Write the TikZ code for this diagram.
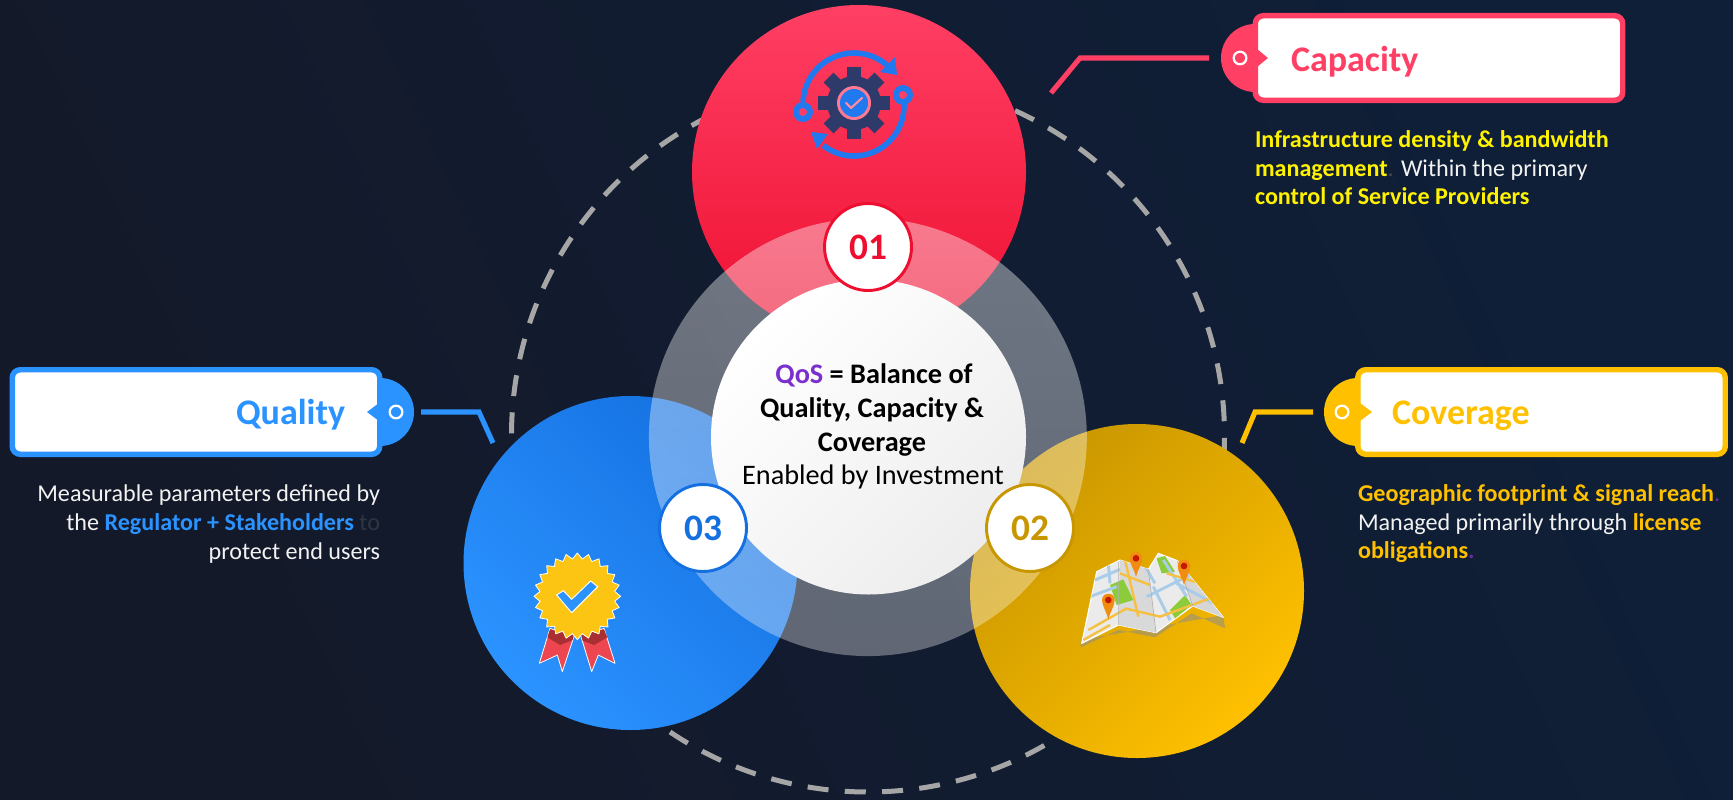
\documentclass[tikz,border=0pt]{standalone}
\usepackage{fontspec}
\setmainfont{Carlito}
\usetikzlibrary{shadings,calc,fadings}
\definecolor{bgA}{HTML}{141929}
\definecolor{bgB}{HTML}{0E1729}
\definecolor{bgC}{HTML}{0F1F38}
\definecolor{capRed}{HTML}{FF3F64}
\definecolor{redDeep}{HTML}{EE0F30}
\definecolor{quBlue}{HTML}{2B93FF}
\definecolor{blueDeep}{HTML}{1470E0}
\definecolor{covGold}{HTML}{FFC000}
\definecolor{goldDeep}{HTML}{C89600}
\definecolor{dashGrey}{HTML}{A6A6A6}
\definecolor{txtWhite}{HTML}{F2F2F2}
\definecolor{qosPurple}{HTML}{7B2FCC}
\definecolor{dotPurple}{HTML}{6A2C9E}
\definecolor{gearNavy}{HTML}{2E3A6A}
\definecolor{gearBlue}{HTML}{2079EE}
\definecolor{pinOrange}{HTML}{F08C10}
\definecolor{roadBlue}{HTML}{A9CDE8}
\definecolor{roadGold}{HTML}{F6C040}
\definecolor{mapGreen}{HTML}{8CCB3A}
\definecolor{sealGold}{HTML}{FDC513}
\definecolor{ribbonRed}{HTML}{EE4650}
\definecolor{ribbonDark}{HTML}{A92F33}
\tikzfading[name=halofade,top color=transparent!60,bottom color=transparent!67]
\tikzset{
  disc/.style={circle,inner sep=0pt,outer sep=0pt,draw=none,minimum size=#1*0.75pt},
  numbadge/.style={circle,inner sep=0pt,outer sep=0pt,fill=white,draw=#1,text=#1,line width=2.2pt,minimum size=65.25pt,font=\bfseries\fontsize{28}{28}\selectfont},
  tagbox/.style={rectangle,rounded corners=6pt,fill=white,draw=#1,line width=4.1pt,inner sep=0pt,outer sep=0pt},
  tagtext/.style={inner sep=0pt,outer sep=0pt,text=#1,font=\bfseries\fontsize{27}{27}\selectfont},
  desc/.style={inner sep=0pt,outer sep=0pt,text=txtWhite,font=\fontsize{18.1}{18.1}\selectfont},
  centre/.style={inner sep=0pt,outer sep=0pt,text=black,font=\fontsize{21.2}{21.2}\selectfont},
  link/.style={line width=3.8pt,draw=#1,line cap=butt,line join=miter},
  eye/.style={circle,inner sep=0pt,draw=white,fill=none,line width=1.7pt,minimum size=9.5pt},
}
\begin{document}
\begin{tikzpicture}[x=0.75pt,y=-0.75pt]
\useasboundingbox (0,0) rectangle (1733,799);
\shade[left color=bgA,middle color=bgB,right color=bgC,shading angle=115] (0,0) rectangle (1733,799);

% dashed ring
\node[disc=713,draw=dashGrey,line width=3.75pt,dash pattern=on 15.75pt off 12.25pt,dash phase=17.3pt,fill=none] (orbit) at (868,435.5) {};

% big coloured discs
\node[disc=334,top color=capRed,bottom color=redDeep,shading angle=0] (red) at (859,172) {};
\node[disc=334,left color=quBlue,right color=blueDeep,shading angle=135] (blue) at (630.5,563) {};
\node[disc=334,left color=covGold,right color=goldDeep,shading angle=225] (gold) at (1137,591) {};

% translucent ring and centre disc
\node[disc=438,fill=white,path fading=halofade] (halo) at (868,437) {};
\node[disc=315,left color=white,right color=white!93!black,shading angle=45] (core) at (868.5,437) {};

% centre text
\node[centre,anchor=base] (c1) at (874,383) {\textbf{\textcolor{qosPurple}{QoS} = Balance of}};
\node[centre,anchor=base] (c2) at (872,417) {\textbf{Quality, Capacity \&}};
\node[centre,anchor=base] (c3) at (872,451) {\textbf{Coverage}};
\node[centre,anchor=base] (c4) at (873,484) {Enabled by Investment};

% number badges
\node[numbadge=redDeep] (n1) at (868,247) {\raisebox{-1pt}{01}};
\node[numbadge=goldDeep] (n2) at (1030,528) {\raisebox{-1pt}{02}};
\node[numbadge=blueDeep] (n3) at (703,528) {\raisebox{-1pt}{03}};

% Capacity tag
\node[disc=68,fill=capRed] (lobeA) at (1255,58) {};
\node[tagbox=capRed,minimum width=275.6pt,minimum height=63.4pt] (boxA) at (1439,58) {};
\fill[capRed] (1257,49) -- (1268,58) -- (1257,67) -- cycle;
\node[eye] (eyeA) at (1240,58) {};
\node[tagtext=capRed,anchor=base west] (tA) at (1291,71) {Capacity};
\coordinate (a1) at (1209,58);
\coordinate (a2) at (1080,58);
\coordinate (a3) at (1051,93);
\draw[link=capRed] (a1) -- (a2) -- (a3);
\node[desc,anchor=base west] (dA1) at (1255,147) {\textcolor{yellow}{\textbf{Infrastructure density \& bandwidth}}};
\node[desc,anchor=base west] (dA2) at (1255,176) {\textcolor{yellow}{\textbf{management}}\textcolor{bgA!80!white}{.} Within the primary};
\node[desc,anchor=base west] (dA3) at (1255,204) {\textcolor{yellow}{\textbf{control of Service Providers}}};

% Quality tag
\node[disc=68,fill=quBlue] (lobeB) at (380,412) {};
\node[tagbox=quBlue,minimum width=275.6pt,minimum height=63.4pt] (boxB) at (196,412) {};
\fill[quBlue] (379,403) -- (367,412) -- (379,421) -- cycle;
\node[eye] (eyeB) at (396,412) {};
\node[tagtext=quBlue,anchor=base east] (tB) at (345,424) {Quality};
\coordinate (b1) at (421,412);
\coordinate (b2) at (479,412);
\coordinate (b3) at (493,443);
\draw[link=quBlue] (b1) -- (b2) -- (b3);
\node[desc,anchor=base east] (dB1) at (380,501) {Measurable parameters defined by};
\node[desc,anchor=base east] (dB2) at (380,530) {the \textcolor{quBlue}{\textbf{Regulator + Stakeholders}} \textcolor{white!12!bgA}{to}};
\node[desc,anchor=base east] (dB3) at (380,559) {protect end users};

% Coverage tag
\node[disc=68,fill=covGold] (lobeC) at (1358,412) {};
\node[tagbox=covGold,minimum width=275.6pt,minimum height=63.4pt] (boxC) at (1541.5,412) {};
\fill[covGold] (1360,403) -- (1372,412) -- (1360,421) -- cycle;
\node[eye] (eyeC) at (1342,412) {};
\node[tagtext=covGold,anchor=base west] (tC) at (1392,424) {Coverage};
\coordinate (c1a) at (1313,412);
\coordinate (c2a) at (1255,412);
\coordinate (c3a) at (1242,443);
\draw[link=covGold] (c1a) -- (c2a) -- (c3a);
\node[desc,anchor=base west] (dC1) at (1358,501) {\textcolor{covGold}{\textbf{Geographic footprint \& signal reach}}\textcolor{dotPurple}{.}};
\node[desc,anchor=base west] (dC2) at (1358,530) {Managed primarily through \textcolor{covGold}{\textbf{license}}};
\node[desc,anchor=base west] (dC3) at (1358,558) {\textcolor{covGold}{\textbf{obligations}}\textcolor{dotPurple}{\textbf{.}}};

% gear icon
\begin{scope}
\draw[gearBlue,line width=4.2pt] plot[smooth,samples=30,domain=178:48] ({854+51*cos(\x)},{104-51*sin(\x)});
\fill[gearBlue] (895,57) -- (897,75) -- (880,72) -- cycle;
\draw[gearBlue,line width=4.2pt] plot[smooth,samples=30,domain=4:-128] ({854+50*cos(\x)},{106-50*sin(\x)});
\fill[gearBlue] (811,132) -- (828,134) -- (817,149) -- cycle;
\fill[gearBlue] (803,112) circle (10);
\fill[capRed] (803,112) circle (4);
\fill[gearBlue] (903,95) circle (10);
\fill[capRed] (903,95) circle (4);
\foreach \a in {0,45,...,315}{
  \fill[gearNavy,rotate around={\a:(854,103)}] (847,100) rectangle (861,67);
}
\fill[gearNavy] (854,103) circle (27);
\fill[capRed!70!white] (854,103) circle (17);
\fill[gearBlue] (854,103) circle (14);
\draw[capRed!60!white,line width=1.6pt,line cap=round,line join=round] (846,103) -- (851,108) -- (862,98);
\end{scope}

% seal icon
\begin{scope}[shift={(500,520)},x=0.25pt,y=-0.25pt]
\draw[white,line width=0.6pt,fill=ribbonRed,line join=round] (150,325) -- (118,430) -- (172,405) -- (187,455) -- (222,350) -- cycle;
\draw[white,line width=0.6pt,fill=ribbonRed,line join=round] (243,350) -- (275,455) -- (295,405) -- (345,430) -- (312,325) -- cycle;
\fill[ribbonDark] (150,328) -- (142,352) -- (180,375) -- (218,360) -- (222,345) -- cycle;
\fill[ribbonDark] (243,345) -- (248,362) -- (282,375) -- (322,352) -- (312,328) -- cycle;
\draw[white,line width=0.6pt,fill=sealGold,line join=round]
  plot[samples=49,domain=0:48] ({232+(mod(\x,2)==0?130:113)*cos(\x*7.5)},{229+(mod(\x,2)==0?130:113)*sin(\x*7.5)}) -- cycle;
\draw[white,line width=0.7pt,fill=quBlue,line join=miter] (170,225) -- (190,212) -- (215,238) -- (272,183) -- (293,200) -- (215,278) -- cycle;
\end{scope}

% map icon
\begin{scope}[shift={(1060,530)},x=0.25pt,y=-0.25pt]
\fill[black!45,opacity=0.55] (62,352) -- (175,300) -- (285,322) -- (395,250) -- (495,295) -- (490,255) -- (62,330) -- cycle;
\path[draw=white,line width=0.8pt,fill=white!92!black,line join=round] (110,125) -- (180,90) -- (265,118) -- (295,70) -- (352,92) -- (490,262) -- (398,228) -- (288,308) -- (175,285) -- (65,340) -- cycle;
\begin{scope}
\clip (110,125) -- (180,90) -- (265,118) -- (295,70) -- (352,92) -- (490,262) -- (398,228) -- (288,308) -- (175,285) -- (65,340) -- cycle;
\fill[white!85!black] (180,90) -- (265,118) -- (288,308) -- (175,285) -- cycle;
\fill[white!84!black] (352,92) -- (490,262) -- (398,228) -- (365,130) -- cycle;
\fill[mapGreen] (150,165) -- (190,148) -- (220,210) -- (170,225) -- cycle;
\fill[mapGreen] (290,85) -- (315,78) -- (345,125) -- (305,130) -- cycle;
\fill[mapGreen] (330,240) -- (375,195) -- (395,225) -- (345,265) -- cycle;
\draw[roadBlue,line width=2.2pt] (105,150) -- (180,118) (90,200) -- (170,170) (145,100) -- (150,160) (250,100) -- (285,160) (280,170) -- (330,270) (260,200) -- (400,130) (310,90) -- (380,200) (350,160) -- (460,220);
\draw[roadGold,line width=1.8pt] (195,90) -- (235,260) (85,300) -- (200,235) (195,235) -- (300,260) (180,130) -- (270,165) (300,260) -- (450,205) (70,330) -- (150,285) (320,130) -- (420,160);
\draw[white!70!black,line width=0.5pt] (175,95) -- (175,285) (265,118) -- (288,308) (352,92) -- (398,228);
\end{scope}
\foreach \px/\py/\tx/\ty in {145/210/145/268,228/85/228/140,372/108/372/165}{
  \fill[pinOrange] (\px-19,\py) .. controls (\px-19,\py+18) and (\tx-4,\ty-20) .. (\tx,\ty) .. controls (\tx+4,\ty-20) and (\px+19,\py+18) .. (\px+19,\py) .. controls (\px+19,\py-25) and (\px-19,\py-25) .. (\px-19,\py) -- cycle;
  \fill[black!30!red!80!orange] (\px,\py) circle (10);
}
\end{scope}
\end{tikzpicture}
\end{document}
